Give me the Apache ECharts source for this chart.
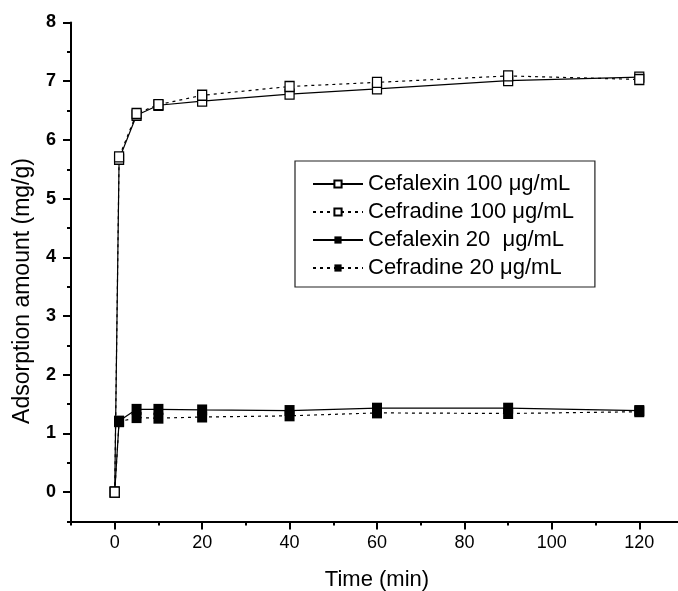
<!DOCTYPE html>
<html>
<head>
<meta charset="utf-8">
<script src="https://cdn.jsdelivr.net/npm/echarts@6/dist/echarts.min.js"></script>
<style>
  html, body { margin: 0; padding: 0; background: #fff; }
  #figure { width: 678px; height: 591px; }
</style>
</head>
<body>
<div id="figure"></div>
<script>
// sampling times (min)
let times = [0, 1, 5, 10, 20, 40, 60, 90, 120];
// adsorption amount (mg/g)
let cefalexin100 = [0, 5.67, 6.42, 6.59, 6.66, 6.78, 6.87, 7.01, 7.07];
let cefradine100 = [0, 5.71, 6.45, 6.60, 6.76, 6.91, 6.98, 7.09, 7.03];
let cefalexin20 = [0, 1.21, 1.41, 1.41, 1.40, 1.39, 1.43, 1.43, 1.39];
let cefradine20 = [0, 1.20, 1.27, 1.26, 1.28, 1.30, 1.35, 1.34, 1.37];

// labelled ticks
let xTickMin = 0, xTickMax = 120, xTickStep = 20;
let yTickMin = 0, yTickMax = 8, yTickStep = 1;

let names = ['Cefalexin 100 μg/mL', 'Cefradine 100 μg/mL', 'Cefalexin 20  μg/mL', 'Cefradine 20 μg/mL'];

// plot frame in pixels, and the data range it covers
let plotLeft = 71, plotTop = 22.5, plotWidth = 612, plotHeight = 499;
let xMin = -10, xMax = 130, yMin = -0.5, yMax = 8;
let pxPerX = plotWidth / (xMax - xMin);
let pxPerY = plotHeight / (yMax - yMin);

function pairs(ys) {
    let out = [];
    for (let i = 0; i < times.length; i++) {
        out.push([times[i], ys[i]]);
    }
    return out;
}

function make_series(name, ys, dashed, filled) {
    return {
        name: name,
        type: 'line',
        xAxisIndex: 0,
        yAxisIndex: 0,
        data: pairs(ys),
        symbol: 'rect',
        symbolSize: filled ? [10, 11] : [9, 10],
        z: filled ? 3 : 4,
        lineStyle: {color: '#000', width: 1.2, type: dashed ? [3, 4] : 'solid'},
        itemStyle: {color: filled ? '#000' : '#fff', borderColor: '#000', borderWidth: filled ? 0 : 1.3},
        emphasis: {disabled: true},
        animation: false
    };
}

let font = 'Liberation Sans, Arial, sans-serif';
let black = {color: '#000', width: 2};

function hidden_axis(grid, min, max) {
    return {gridIndex: grid, type: 'value', min: min, max: max, show: false, splitLine: {show: false}};
}

let figure = document.getElementById('figure');
let myChart = echarts.init(figure, null, {renderer: 'canvas'});

myChart.setOption({
    backgroundColor: '#fff',
    animation: false,
    textStyle: {fontFamily: font, color: '#000'},
    grid: [
        // main plot (minor ticks, axis lines, names)
        {left: plotLeft, top: plotTop, width: plotWidth, height: plotHeight, containLabel: false, outerBoundsMode: 'none'},
        // x major ticks/labels, 0..120
        {left: plotLeft + (xTickMin - xMin) * pxPerX, top: plotTop, width: (xTickMax - xTickMin) * pxPerX, height: plotHeight, containLabel: false, outerBoundsMode: 'none'},
        // y major ticks/labels, 0..8
        {left: plotLeft, top: plotTop + (yMax - yTickMax) * pxPerY, width: plotWidth, height: (yTickMax - yTickMin) * pxPerY, containLabel: false, outerBoundsMode: 'none'}
    ],
    legend: {
        data: names,
        orient: 'vertical',
        left: 295,
        top: 161,
        padding: [12, 21, 8, 17],
        itemGap: 6,
        itemWidth: 50,
        itemHeight: 9,
        borderColor: '#222',
        borderWidth: 1.2,
        textStyle: {fontFamily: font, fontSize: 22, lineHeight: 20, color: '#000'}
    },
    xAxis: [{
        gridIndex: 0,
        type: 'value',
        min: xMin,
        max: xMax,
        interval: 10,
        position: 'bottom',
        name: 'Time (min)',
        nameLocation: 'middle',
        nameGap: 47,
        nameTextStyle: {fontFamily: font, fontSize: 22, color: '#000'},
        axisLine: {show: true, onZero: false, lineStyle: black},
        axisTick: {show: true, length: 4, lineStyle: black},
        axisLabel: {show: false},
        splitLine: {show: false}
    }, {
        gridIndex: 1,
        type: 'value',
        min: xTickMin,
        max: xTickMax,
        interval: xTickStep,
        position: 'bottom',
        axisLine: {show: false, onZero: false},
        axisTick: {show: true, length: 8, lineStyle: black},
        axisLabel: {margin: 13, fontSize: 18, color: '#000', fontFamily: font},
        splitLine: {show: false}
    },
        hidden_axis(2, yMin, yMax)
    ],
    yAxis: [{
        gridIndex: 0,
        type: 'value',
        min: yMin,
        max: yMax,
        interval: 0.5,
        position: 'left',
        name: 'Adsorption amount (mg/g)',
        nameLocation: 'middle',
        nameGap: 37,
        nameTextStyle: {fontFamily: font, fontSize: 23, color: '#000', padding: [0, 38, 0, 0]},
        axisLine: {show: true, onZero: false, lineStyle: black},
        axisTick: {show: true, length: 4, lineStyle: black},
        axisLabel: {show: false},
        splitLine: {show: false}
    },
        hidden_axis(1, yMin, yMax),
    {
        gridIndex: 2,
        type: 'value',
        min: yTickMin,
        max: yTickMax,
        interval: yTickStep,
        position: 'left',
        axisLine: {show: false, onZero: false},
        axisTick: {show: true, length: 8, lineStyle: black},
        axisLabel: {margin: 15, fontSize: 18, fontWeight: 'bold', color: '#000', fontFamily: font},
        splitLine: {show: false}
    }],
    series: [
        make_series(names[0], cefalexin100, false, false),
        make_series(names[1], cefradine100, true, false),
        make_series(names[2], cefalexin20, false, true),
        make_series(names[3], cefradine20, true, true)
    ]
});
</script>
</body>
</html>
